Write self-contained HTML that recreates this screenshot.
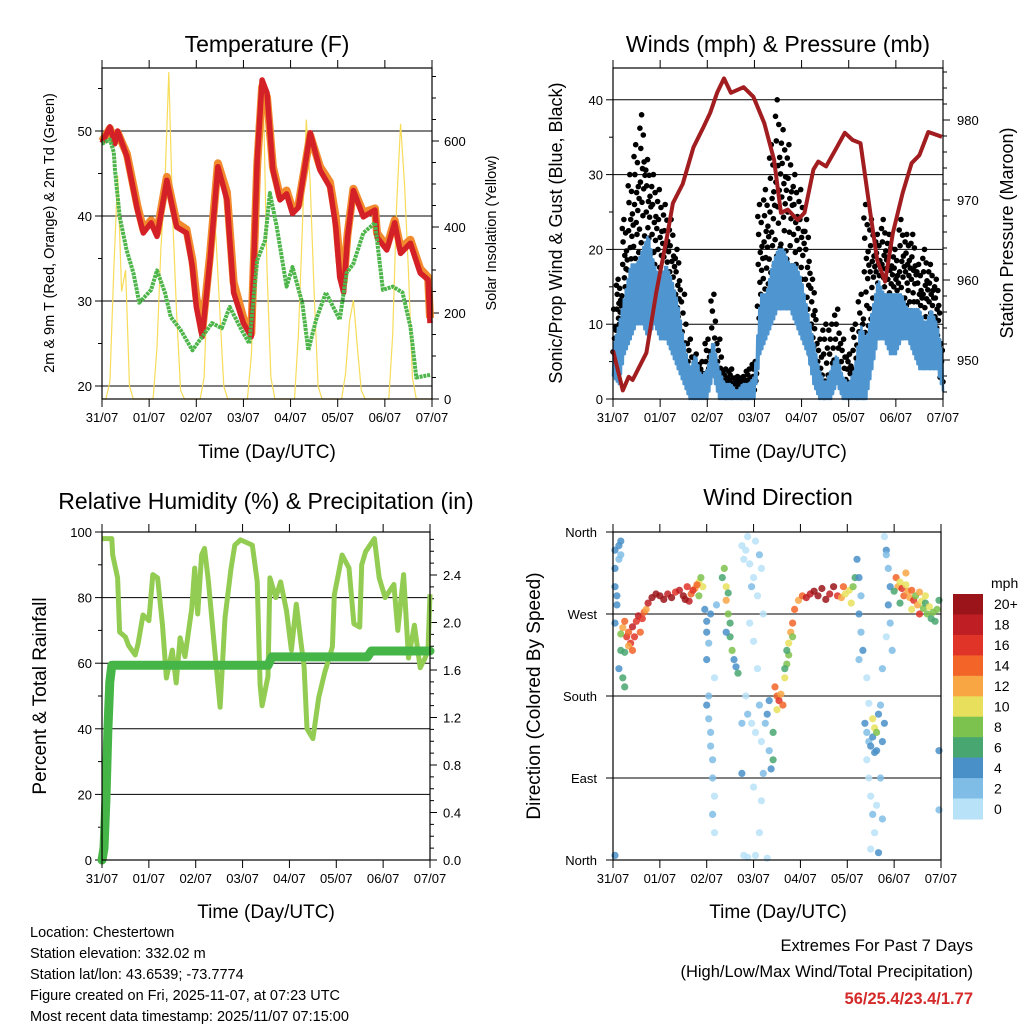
<!DOCTYPE html>
<html><head><meta charset="utf-8">
<style>
html,body{margin:0;padding:0;background:#fff;}
svg{display:block;font-family:"Liberation Sans",Arial,sans-serif;}
</style></head>
<body>
<svg id="fig" width="1024" height="1024" viewBox="0 0 1024 1024" xmlns="http://www.w3.org/2000/svg">
<rect width="1024" height="1024" fill="#fff"/>
<g id="gT"></g>
<g id="gW"></g>
<g id="gR"></g>
<g id="gD"></g>
<g id="gC"></g>
<g font-size="14.5" fill="#000">
<text x="30" y="937">Location: Chestertown</text>
<text x="30" y="958">Station elevation: 332.02 m</text>
<text x="30" y="979">Station lat/lon: 43.6539; -73.7774</text>
<text x="30" y="1000">Figure created on Fri, 2025-11-07, at 07:23 UTC</text>
<text x="30" y="1021">Most recent data timestamp: 2025/11/07 07:15:00</text>
</g>
<g text-anchor="end">
<text x="973" y="951" font-size="16.5">Extremes For Past 7 Days</text>
<text x="973" y="977" font-size="16.5">(High/Low/Max Wind/Total Precipitation)</text>
<text x="973" y="1004" font-size="16.5" font-weight="bold" fill="#d42a2a">56/25.4/23.4/1.77</text>
</g>
</svg>
<script>
// ---------- DATA ----------
const dayLabels = ["31/07","01/07","02/07","03/07","04/07","05/07","06/07","07/07"];
// Temperature (hour, F)
const tempHours = [0,4,6.5,8,12.7,18,21,25,28,33,38,43,46,48,51,55,59,63.6,67,72,76,79,81.5,84,87,90.6,94,97,100,106,111,116,119,121,123,125,128,133,139,140,145,149,152,157,162,166,167];
const temp2m =    [48.6,50.5,48.5,50,47,40.7,38,39.2,37.6,44.2,38.7,38,34,29.3,25.8,34.8,45.8,41.9,31,27.4,25.8,46.6,56,54.5,45.4,41.9,42.6,40.3,41,49.8,45.4,43.4,38.7,32.8,31,37.5,43,39.9,40.7,37.5,36,39.2,35.6,36.8,33.3,32.5,27.4];
const temp9m =    [48.8,50.3,48.8,49.8,47.3,41.2,38.4,39.5,38.0,44.6,39.2,38.4,34.8,30.5,26.4,35.4,46.2,42.8,32.2,28.0,26.2,46.0,55.2,54.0,45.8,42.3,43.0,40.8,41.3,49.5,45.8,44.0,39.8,34.6,32.2,37.8,43.2,40.4,40.9,38.0,36.4,39.5,36.2,37.2,33.8,32.8,28.0];
const dewHours = [0,4,6,6.6,9,12.5,16,19,25,28,32,35,40,46,51,56,61,65,71,75,79,83,85.5,89,94,97,102,105,109,114,121,124.5,128,133,139,143,148,153,157,160,167];
const dewPoint = [48.5,49,47.5,45.4,39.9,36,33.3,29.8,31.3,33.6,31,28.1,26.6,24.2,25.8,27.4,26.8,29.3,26.6,25,34.8,37.1,42.7,38.7,31.7,34,29.7,24.2,27.8,31,27.8,33.3,34.4,38,39.2,31.3,31.7,31,27,21,21.3];
const solarHours = [0,2,4,6,8,10,12,14,16,26,28,30,32,34,36,38,40,42,50,52,54,56,58,60,62,64,74,76,78,80,82,84,86,88,98,100,102,104,106,108,110,112,122,124,126,128,130,132,134,146,148,150,152,154,156,158,160,168];
const solarVals  = [0,0,40,300,520,250,300,30,0,0,120,350,500,760,420,200,20,0,0,50,300,450,380,200,30,0,0,100,350,600,730,300,50,0,0,150,400,650,500,250,30,0,0,60,180,230,120,20,0,0,150,450,640,500,300,50,0,0];
// Winds (3-hourly from hour 0)
const windLo = [3,2,6,8,10,10,8,10,8,8,6,4,2,0,0,0,0,3,0,0,0,0,0,0,0,6,8,10,12,12,12,10,8,6,2,0,0,0,2,0,0,0,0,0,4,8,8,6,6,8,8,6,4,4,4,4,1];
const windHi = [7,10,14,18,18,20,22,18,16,18,16,13,8,4,6,3,4,8,4,2,2,1,2,2,3,14,14,18,20,20,18,18,16,12,8,4,2,4,6,3,2,4,10,8,12,16,14,14,14,14,12,12,12,10,12,10,6];
const gustLo = [6,8,12,15,18,20,18,14,12,12,10,8,4,2,2,1,2,5,2,1,1,1,1,1,1,10,14,16,18,18,16,14,12,8,4,2,2,2,4,2,2,3,4,8,10,12,12,10,10,10,12,10,8,8,8,6,2];
const gustHi = [12,16,24,30,34,38,32,30,28,26,24,20,14,8,6,5,8,14,8,4,4,3,3,4,5,26,28,34,40,36,34,30,28,24,16,8,10,10,12,8,6,10,14,26,24,22,24,22,20,24,22,22,18,20,18,16,8];
const presHours = [0,5,8,10,17,22,27.5,30.5,35.5,41,46,49.5,53,56.5,60,66.5,71.5,77,82,85.5,89,94,97.5,102,104.5,108.5,114,118,122,126,131,134.5,138.5,142.5,147.5,152,156,160.5,167.5];
const presVals  = [951.2,946.2,947.9,947.5,950.9,958.4,965.4,969.6,972,976.6,979.1,980.9,983.4,985.2,983.4,984.1,982.9,979.6,975,968.4,968.8,967.5,968.4,973.8,974.8,974.2,976.6,978.4,977.5,977.1,968.4,962.5,959.8,965.9,970.9,974.6,975.6,978.5,977.9];
// RH and precip
const rhHours = [0,5,5.5,8,9,12,13.5,17,18.5,21,24,26,28.5,31,33,36,38,40,42.5,46,47.5,49,51,52.5,54.5,57,60.5,63,66,68,71,77,79.5,81,82,85,86,89,91.5,94.5,97,99.5,102,103.5,105,108,111,114,118,119,123,126.5,129,132,133,135,139.5,142,145,149.5,151.5,154.5,157,160,163,165.5,167,168];
const rhVals  = [98,98,93,86,69.5,68,65.5,62.5,66,74.7,73,87,86,71.6,55.5,64,54,67.7,62,76.8,89,75,93,95,85,68.6,46.6,73.8,88.6,96,97.6,96,85,53.4,47,56,86,80,84.8,76,64,78,66,59,40,37,49.5,57,65,80.8,93,89,72,71,90,94,98,86,80,84,70,87,61.6,71.6,58.6,61.6,64,81];
const precipHours = [0,1,2,3,4,5,85,87,136,138,168];
const precipVals  = [0,0.1,0.5,1.1,1.5,1.64,1.64,1.71,1.71,1.76,1.76];
// Wind direction points: [hour, direction deg, speed mph]
const dirPoints = [[1,340,4],[1,320,4],[1,300,4],[2,280,4],[1,260,4],[3,330,3],[2,290,5],[3,345,4],[4,350,4],[4,335,3],[3,210,4],[4,230,6],[5,200,6],[6,190,6],[1,5,4],
[5,255,12],[6,262,14],[7,245,16],[8,250,14],[9,238,16],[10,256,18],[11,245,16],[12,262,16],[13,268,18],[14,250,14],[15,265,16],[16,272,14],[17,275,12],[4,248,8],[6,228,6],[8,235,12],[10,230,14],
[18,282,18],[20,288,20],[22,292,20],[24,290,20],[26,286,20],[28,292,18],[30,288,20],[32,294,16],[34,296,18],[36,290,20],[38,300,16],[40,292,14],[42,298,12],[44,305,10],[45,310,8],[46,300,10],[44,290,8],[39,284,18],[41,296,16],[43,302,14],[37,286,20],
[47,275,4],[48,262,4],[48,250,4],[49,238,3],[48,220,4],[50,270,4],[49,180,3],[48,170,4],[50,140,2],[51,110,2],[51,90,2],[52,70,1],[51,50,2],[52,30,1],[49,155,2],[50,125,2],[53,280,3],[52,200,1],
[57,320,8],[58,300,10],[58,285,12],[59,270,8],[60,260,6],[60,245,6],[61,230,8],[62,220,4],[63,212,4],[64,205,6],[56,310,6],[58,250,4],[59,293,6],
[66,345,0],[67,330,0],[68,340,1],[69,355,0],[70,325,1],[71,300,2],[72,310,0],[73,350,1],[74,290,0],[75,335,2],[76,320,1],[77,270,0],[70,260,0],[72,240,1],[74,210,0],[68,180,1],[69,160,2],[71,150,1],[73,140,0],[75,170,2],[76,130,1],[78,150,2],[79,160,4],[80,175,4],[80,120,3],[81,100,4],[82,140,6],[82,110,6],[77,95,3],[66,95,4],[66,150,2],[72,80,0],[76,65,0],[67,5,0],[69,3,1],[73,5,0],[79,2,0],[75,30,0],
[83,190,14],[84,180,14],[85,175,16],[86,182,12],[87,170,14],[84,165,10],[88,200,10],[89,215,8],[90,225,8],[90,238,10],[91,250,12],[92,260,14],[92,245,8],[89,230,6],[88,210,6],[93,275,14],
[95,285,12],[97,290,14],[99,288,18],[101,292,18],[103,295,20],[105,290,20],[107,298,20],[109,286,20],[111,292,18],[113,300,20],[115,290,16],[117,288,12],[119,292,10],[121,296,10],[123,300,8],[124,310,6],[122,282,10],[118,300,14],
[125,330,4],[126,310,4],[127,290,3],[126,270,4],[127,250,2],[128,230,4],[126,220,2],
[129,150,4],[130,140,3],[131,130,2],[132,125,4],[133,135,4],[134,118,4],[135,120,5],[133,155,10],[134,145,10],[135,140,8],[136,160,4],[130,110,1],[131,90,0],[132,70,1],[133,50,2],[134,30,0],[135,60,1],[137,90,2],[138,130,4],[139,150,4],[137,170,2],[130,200,0],[131,172,1],[138,45,2],[132,12,0],[136,8,4],
[139,355,0],[140,340,4],[141,320,3],[142,300,4],[141,280,4],[142,260,2],[140,245,1],[143,230,3],[138,210,2],[140,335,3],
[145,310,14],[146,300,12],[147,305,10],[148,298,16],[149,290,14],[150,302,10],[151,295,12],[152,288,12],[153,296,14],[154,285,16],[155,290,8],[156,280,12],[157,294,12],[158,284,10],[159,276,8],[160,282,6],[161,270,8],[162,278,10],[163,265,6],[164,272,8],[165,262,6],[166,275,8],[167,285,6],[144,295,6],[147,282,6],[150,315,12],[153,275,10],[157,270,16],[160,290,10],[167,120,4],[167,55,2]];
const speedLabels = ["20+","18","16","14","12","10","8","6","4","2","0"];
const speedColors = ["#9b1419","#bf1e24","#e03428","#f26428","#f8a644","#e8e05c","#7cc24e","#48a670","#4a90c8","#7fbde6","#b8e2f8"];

// ---------- HELPERS ----------
const NS="http://www.w3.org/2000/svg";
function mk(parent,tag,attrs,text){const e=document.createElementNS(NS,tag);for(const k in attrs)e.setAttribute(k,attrs[k]);if(text!==undefined)e.textContent=text;parent.appendChild(e);return e;}
function pathD(xs,ys,fx,fy){let d="";for(let i=0;i<xs.length;i++)d+=(i?"L":"M")+fx(xs[i]).toFixed(1)+" "+fy(ys[i]).toFixed(1);return d;}
function frame(g,x0,y0,w,h){const r=mk(g,"rect",{x:x0,y:y0,width:w,height:h,fill:"none",stroke:"#000","stroke-width":1.2});}
function xAxis(g,x0,w,yb,yt,labY){for(let i=0;i<8;i++){const x=x0+i*w/7;
 mk(g,"line",{x1:x,x2:x,y1:yb,y2:yb+8,stroke:"#000","stroke-width":1});
 mk(g,"line",{x1:x,x2:x,y1:yt,y2:yt-8,stroke:"#000","stroke-width":1});
 const t=mk(g,"text",{x:x,y:labY,"font-size":13,"text-anchor":"middle"},dayLabels[i]);
 }}
function grid(g,x0,w,y){const l=mk(g,"line",{x1:x0,x2:x0+w,y1:y,y2:y,stroke:"#000","stroke-width":1});}
function ytick(g,x,y,len){mk(g,"line",{x1:x,x2:x+len,y1:y,y2:y,stroke:"#000","stroke-width":1});}
function ylab(g,x,y,txt,anchor){const t=mk(g,"text",{x:x,y:y+5,"font-size":13,"text-anchor":anchor},txt);}
function title(g,x,y,txt,size,name){const t=mk(g,"text",{x:x,y:y,"font-size":size,"text-anchor":"middle"},txt);}
function vtitle(g,x,y,txt,size,name){const t=mk(g,"text",{x:0,y:0,"font-size":size,"text-anchor":"middle",transform:`translate(${x},${y}) rotate(-90)`},txt);}

// ---------- TEMPERATURE ----------
(function(){
const g=document.getElementById("gT");const X0=102,W=330,YT=68,YB=399;
const fx=h=>X0+h/168*W, fy=t=>386-(t-20)*8.5, fs=s=>399-s*0.43;
[20,30,40,50].forEach(v=>grid(g,X0,W,fy(v)));
for(let v=20;v<=55;v+=5){ytick(g,X0,fy(v),v%10?-4:-7);}
[20,30,40,50].forEach(v=>ylab(g,X0-10,fy(v),String(v),"end"));
for(let s=0;s<=750;s+=50){ytick(g,X0+W,fs(s),s%200?4:7);}
[0,200,400,600].forEach(v=>ylab(g,X0+W+12,fs(v),String(v),"start"));
const sol=mk(g,"path",{d:pathD(solarHours,solarVals,fx,fs),fill:"none",stroke:"#f7dc5a","stroke-width":1.2});

const o=mk(g,"path",{d:pathD(tempHours,temp9m,fx,fy),fill:"none",stroke:"#f28a2e","stroke-width":8,"stroke-linejoin":"round"});

const r=mk(g,"path",{d:pathD(tempHours,temp2m,fx,fy),fill:"none",stroke:"#d42027","stroke-width":5.5,"stroke-linejoin":"round"});

const d=mk(g,"path",{d:pathD(dewHours,dewPoint,fx,fy),fill:"none",stroke:"#4db54a","stroke-width":4,"stroke-dasharray":"3 0.8","stroke-linejoin":"round"});

frame(g,X0,YT,W,YB-YT);xAxis(g,X0,W,YB,YT,422);
title(g,267,52,"Temperature (F)",23,"temperature-title");
title(g,267,458,"Time (Day/UTC)",19,"x-axis-title");
vtitle(g,54,233,"2m & 9m T (Red, Orange) & 2m Td (Green)",14.5,"y-axis-title-left");
vtitle(g,496,233,"Solar Insolation (Yellow)",14.5,"y-axis-title-right");
})();

// ---------- WINDS ----------
(function(){
const g=document.getElementById("gW");const X0=613,W=330,YT=68,YB=399;
const fx=h=>X0+h/168*W, fy=v=>399-v*7.48, fp=p=>360-(p-950)*8;
[10,20,30,40].forEach(v=>grid(g,X0,W,fy(v)));
for(let v=0;v<=40;v+=5){ytick(g,X0,fy(v),v%10?-4:-7);}
[0,10,20,30,40].forEach(v=>ylab(g,X0-10,fy(v),String(v),"end"));
for(let p=946;p<=986;p+=2){ytick(g,X0+W,fp(p),p%10?4:7);}
[950,960,970,980].forEach(v=>ylab(g,X0+W+14,fp(v),String(v),"start"));
const frac=[0.15,0.9,0.5,0.75,0.05,1.0,0.35,0.6,0.25,0.85,0.45,0.65,0.1,0.55];
const dots=mk(g,"g",{fill:"#000"});
for(let i=0;i<gustLo.length;i++){const n=gustHi[i]>15?14:8;for(let k=0;k<n;k++){const h=i*3+(k-n/2)*3/n;if(h<0||h>168)continue;const v=gustLo[i]+frac[k%14]*(gustHi[i]-gustLo[i]);mk(dots,"circle",{cx:fx(h).toFixed(1),cy:fy(v).toFixed(1),r:2.8});}}
let bx=[],bv=[];
for(let i=0;i<windLo.length-1;i++){for(let k=0;k<6;k++){const t=k/6;const lo=windLo[i]+(windLo[i+1]-windLo[i])*t, hi=windHi[i]+(windHi[i+1]-windHi[i])*t;bx.push(i*3+k*3/6);bv.push(k%2?hi:lo);}}
bx.push(168);bv.push(windLo[windLo.length-1]);
const bl=mk(g,"path",{d:pathD(bx,bv,fx,fy),fill:"none",stroke:"#4f96d1","stroke-width":2.6,"stroke-linejoin":"round"});

const pl=mk(g,"path",{d:pathD(presHours,presVals,fx,fp),fill:"none",stroke:"#a11d1f","stroke-width":4,"stroke-linejoin":"round"});

frame(g,X0,YT,W,YB-YT);xAxis(g,X0,W,YB,YT,422);
title(g,778,52,"Winds (mph) & Pressure (mb)",23,"winds-title");
title(g,778,458,"Time (Day/UTC)",19,"x-axis-title");
vtitle(g,562,233,"Sonic/Prop Wind & Gust (Blue, Black)",18,"y-axis-title-left");
vtitle(g,1013,233,"Station Pressure (Maroon)",18,"y-axis-title-right");
})();

// ---------- RH ----------
(function(){
const g=document.getElementById("gR");const X0=102,W=328,YT=532,YB=860;
const fx=h=>X0+h/168*W, fy=v=>860-v*3.28, fp=p=>860-p*118.75;
[20,40,60,80].forEach(v=>grid(g,X0,W,fy(v)));
for(let v=0;v<=100;v+=10){ytick(g,X0,fy(v),v%20?-4:-7);}
[0,20,40,60,80,100].forEach(v=>ylab(g,X0-10,fy(v),String(v),"end"));
for(let i=0;i<=27;i++){const p=i/10;ytick(g,X0+W,fp(p),i%4?4:7);}
["0.0","0.4","0.8","1.2","1.6","2.0","2.4"].forEach(v=>ylab(g,X0+W+13,fp(parseFloat(v)),v,"start"));
const rl=mk(g,"path",{d:pathD(rhHours,rhVals,fx,fy),fill:"none",stroke:"#93cc52","stroke-width":5,"stroke-linejoin":"round"});

const pr=mk(g,"path",{d:pathD(precipHours,precipVals,fx,fp),fill:"none",stroke:"#46b548","stroke-width":9,"stroke-linejoin":"round","stroke-linecap":"round"});

frame(g,X0,YT,W,YB-YT);xAxis(g,X0,W,YB,YT,883);
title(g,266,509,"Relative Humidity (%) & Precipitation (in)",23,"humidity-title");
title(g,266,918,"Time (Day/UTC)",19,"x-axis-title");
vtitle(g,46,696,"Percent & Total Rainfall",19,"y-axis-title-left");
})();

// ---------- DIRECTION ----------
(function(){
const g=document.getElementById("gD");const X0=613,W=328,YT=532,YB=860;
const fx=h=>X0+h/168*W, fy=d=>860-d*328/360;
[90,180,270].forEach(v=>grid(g,X0,W,fy(v)));
const names=["North","East","South","West","North"];
[0,90,180,270,360].forEach((v,i)=>{ytick(g,X0,fy(v),-7);ylab(g,X0-16,fy(v),names[i],"end");});
const pts=mk(g,"g",{"fill-opacity":0.85});
dirPoints.forEach(p=>{let bin=Math.min(10,Math.floor(p[2]/2));const c=speedColors[10-bin];
 const e=mk(pts,"circle",{cx:fx(p[0]).toFixed(1),cy:fy(p[1]).toFixed(1),r:3.6,fill:c});
 });
frame(g,X0,YT,W,YB-YT);xAxis(g,X0,W,YB,YT,883);
title(g,778,505,"Wind Direction",23,"direction-title");
title(g,778,918,"Time (Day/UTC)",19,"x-axis-title");
vtitle(g,540,696,"Direction (Colored By Speed)",19,"y-axis-title-left");
})();

// ---------- COLORBAR ----------
(function(){
const g=document.getElementById("gC");const y0=594,bh=225/11;
speedColors.forEach((c,i)=>{const r=mk(g,"rect",{x:953,y:(y0+i*bh).toFixed(1),width:30,height:(bh+0.5).toFixed(1),fill:c});
 
 const t=mk(g,"text",{x:994,y:(y0+i*bh+bh/2+5).toFixed(1),"font-size":14},speedLabels[i]);
 });
const t=mk(g,"text",{x:991,y:588,"font-size":14},"mph");
})();
</script>
</body></html>
